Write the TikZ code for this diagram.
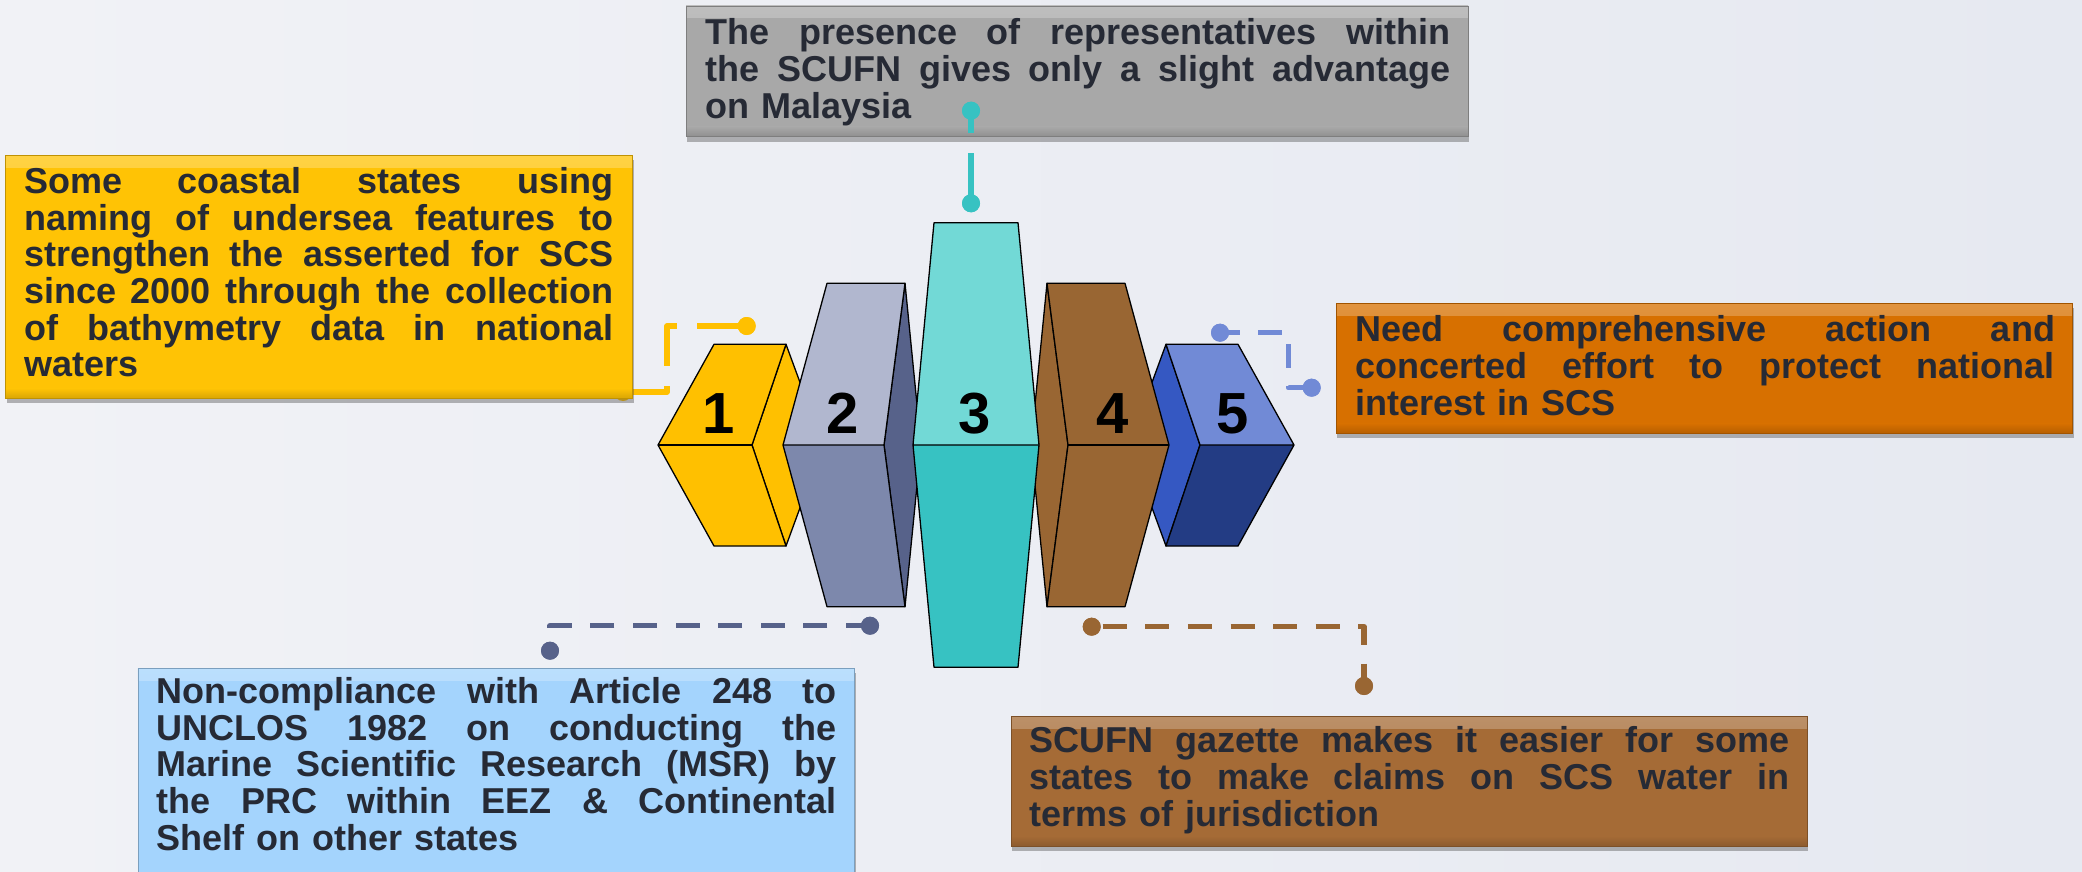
\documentclass[tikz,border=0pt]{standalone}
\usepackage{fontspec}
\setmainfont{Liberation Sans}
\usetikzlibrary{shadows}
\definecolor{bgL}{HTML}{F1F2F6}
\definecolor{bgR}{HTML}{E6E9F1}
\definecolor{txtc}{HTML}{262A35}
\definecolor{cYel}{HTML}{FFC000}
\definecolor{boxYel}{HTML}{FFC305}
\definecolor{boxGray}{HTML}{A8A8A8}
\definecolor{boxOra}{HTML}{D77000}
\definecolor{boxBlu}{HTML}{A4D4FD}
\definecolor{boxBro}{HTML}{A56B36}
\definecolor{bTwoL}{HTML}{B1B7CF}
\definecolor{bTwoD}{HTML}{7D88AC}
\definecolor{bTwoS}{HTML}{57628A}
\definecolor{bThrL}{HTML}{72D9D6}
\definecolor{bThrD}{HTML}{37C2C2}
\definecolor{bFour}{HTML}{996633}
\definecolor{bFiveL}{HTML}{718AD6}
\definecolor{bFiveD}{HTML}{233C84}
\definecolor{bFiveS}{HTML}{3558C2}
\newcommand\jline[2]{\hbox to #1{\spaceskip=0.278em plus 1fil\relax\xspaceskip=\spaceskip #2}}
\newcommand\lastln[1]{\hbox{#1}}
\begin{document}
\begin{tikzpicture}[x=1pt,y=-1pt,
  tbox/.style={rectangle, inner sep=0pt, outer sep=0pt, anchor=north west,
    fill=#1, draw=#1!75!black, line width=0.8pt,
    drop shadow={shadow xshift=1pt, shadow yshift=-5pt, opacity=0.4, fill=black!70},
    path picture={
      \fill[top color=white!25!#1, bottom color=#1] (path picture bounding box.north west) rectangle ([yshift=-12pt]path picture bounding box.north east);
      \fill[top color=#1, bottom color=black!15!#1] ([yshift=10pt]path picture bounding box.south west) rectangle (path picture bounding box.south east);
    }},
  txt/.style={anchor=base west, inner sep=0pt, outer sep=0pt, text=txtc,
    font=\fontsize{36pt}{36.7pt}\selectfont\bfseries, text width=#1},
  num/.style={anchor=base, inner sep=0pt, outer sep=0pt,
    font=\fontsize{58pt}{58pt}\selectfont\bfseries, text=black},
  dot/.style={circle, fill=#1, draw=none, inner sep=0pt, minimum size=18pt},
  conn/.style={draw=#1, line width=5.5pt, line join=round},
  blk/.style={draw=black, line width=1.3pt, line join=round}]
\useasboundingbox (0,0) rectangle (2082,872);
\shade[left color=bgL, right color=bgR] (0,0) rectangle (2082,872);

% yellow connector (behind box 1)
\node[dot=cYel] (yd1) at (623,392) {};
\node[dot=cYel] (yd2) at (746.7,326) {};
\coordinate (yk) at (667,392);
\draw[conn=cYel, dash pattern=on 50pt off 20pt] (yd2.center) -| (yk) -- (yd1.center);
\node[dot=cYel] at (yd2) {};

% text boxes
\node[tbox=boxYel, minimum width=626.7pt, minimum height=243.3pt] (b1) at (5.8,155) {};
\node[txt=589pt] (t1) at (24.2,193.3) {%
\jline{589pt}{Some coastal states using}
\jline{589pt}{naming of undersea features to}
\jline{589pt}{strengthen the asserted for SCS}
\jline{589pt}{since 2000 through the collection}
\jline{589pt}{of bathymetry data in national}
\lastln{waters}};

\node[tbox=boxGray, minimum width=782.1pt, minimum height=130.7pt] (b2) at (686.1,6) {};
\node[txt=745pt] (t2) at (705.5,45) {%
\jline{745pt}{The presence of representatives within}
\jline{745pt}{the SCUFN gives only a slight advantage}
\lastln{on Malaysia}};

\node[tbox=boxOra, minimum width=736.5pt, minimum height=130pt] (b3) at (1336.1,303.3) {};
\node[txt=700pt] (t3) at (1355,341.7) {%
\jline{700pt}{Need comprehensive action and}
\jline{700pt}{concerted effort to protect national}
\lastln{interest in SCS}};

\node[tbox=boxBlu, minimum width=716.8pt, minimum height=230pt] (b4) at (137.9,668.3) {};
\node[txt=680pt] (t4) at (156.7,703.3) {%
\jline{680pt}{Non-compliance with Article 248 to}
\jline{680pt}{UNCLOS 1982 on conducting the}
\jline{680pt}{Marine Scientific Research (MSR) by}
\jline{680pt}{the PRC within EEZ \& Continental}
\lastln{Shelf on other states}};

\node[tbox=boxBro, minimum width=795.8pt, minimum height=130pt] (b5) at (1011.3,716) {};
\node[txt=760pt] (t5) at (1029.4,752.7) {%
\jline{760pt}{SCUFN gazette makes it easier for some}
\jline{760pt}{states to make claims on SCS water in}
\lastln{terms of jurisdiction}};

% other connectors
\node[dot=bThrD] (td1) at (971,110.7) {};
\node[dot=bThrD] (td2) at (971,203.3) {};
\draw[conn=bThrD, dash pattern=on 50pt off 20pt] (td2.center) -- (td1.center);
\node[dot=bThrD] at (td1) {};
\node[dot=bThrD] at (td2) {};

\node[dot=bFiveL] (bd1) at (1220,332.7) {};
\node[dot=bFiveL] (bd2) at (1311.7,387.7) {};
\coordinate (bk) at (1288.3,387.7);
\draw[conn=bFiveL, dash pattern=on 24pt off 18pt, dash phase=4pt] (bd1.center) -| (bk) -- (bd2.center);
\node[dot=bFiveL] at (bd1) {};
\node[dot=bFiveL] at (bd2) {};

\node[dot=bTwoS] (sd1) at (870,625.7) {};
\node[dot=bTwoS] (sd2) at (550,650.7) {};
\draw[conn=bTwoS, dash pattern=on 24pt off 18.6pt] (sd1.center) -| (sd2.center);
\node[dot=bTwoS] at (sd1) {};
\node[dot=bTwoS] at (sd2) {};

\node[dot=bFour] (rd1) at (1091.7,626.7) {};
\node[dot=bFour] (rd2) at (1364,686) {};
\draw[conn=bFour, dash pattern=on 24pt off 18.6pt, dash phase=31.6pt] (rd1.center) -| (rd2.center);
\node[dot=bFour] at (rd1) {};
\node[dot=bFour] at (rd2) {};

% block 1
\filldraw[blk, fill=cYel] (786,344.3) -- (823,445) -- (786,546) -- (752,445) -- cycle;
\filldraw[blk, fill=cYel] (714,344.3) -- (786,344.3) -- (752,445) -- (786,546) -- (714,546) -- (658,445) -- cycle;
\draw[blk] (658,445) -- (752,445);
% block 5
\filldraw[blk, fill=bFiveS] (1166,344.3) -- (1200,445) -- (1166,546) -- (1129,445) -- cycle;
\fill[bFiveL] (1166,344.3) -- (1238,344.3) -- (1294,445) -- (1200,445) -- cycle;
\fill[bFiveD] (1200,445) -- (1294,445) -- (1238,546) -- (1166,546) -- cycle;
\draw[blk] (1166,344.3) -- (1238,344.3) -- (1294,445) -- (1238,546) -- (1166,546) -- (1200,445) -- cycle (1200,445) -- (1294,445);
% block 2
\filldraw[blk, fill=bTwoS] (905,283.3) -- (921,445) -- (905,606.7) -- (884,445) -- cycle;
\fill[bTwoL] (827,283.3) -- (905,283.3) -- (884,445) -- (783,445) -- cycle;
\fill[bTwoD] (783,445) -- (884,445) -- (905,606.7) -- (827,606.7) -- cycle;
\draw[blk] (827,283.3) -- (905,283.3) -- (884,445) -- (905,606.7) -- (827,606.7) -- (783,445) -- cycle (783,445) -- (884,445);
% block 4
\filldraw[blk, fill=bFour] (1047,283.3) -- (1068,445) -- (1047,606.7) -- (1031,445) -- cycle;
\filldraw[blk, fill=bFour] (1047,283.3) -- (1125,283.3) -- (1169,445) -- (1125,606.7) -- (1047,606.7) -- (1068,445) -- cycle;
\draw[blk] (1068,445) -- (1169,445);
% block 3
\fill[bThrL] (934,222.7) -- (1018,222.7) -- (1039,445) -- (913,445) -- cycle;
\fill[bThrD] (913,445) -- (1039,445) -- (1018,667.3) -- (934,667.3) -- cycle;
\draw[blk] (934,222.7) -- (1018,222.7) -- (1039,445) -- (1018,667.3) -- (934,667.3) -- (913,445) -- cycle (913,445) -- (1039,445);

% numbers
\node[num] (n1) at (719,433.3) {1};
\node[num] (n2) at (843,433.3) {2};
\node[num] (n3) at (975,433.3) {3};
\node[num] (n4) at (1113,433.3) {4};
\node[num] (n5) at (1233,433.3) {5};
\end{tikzpicture}
\end{document}
